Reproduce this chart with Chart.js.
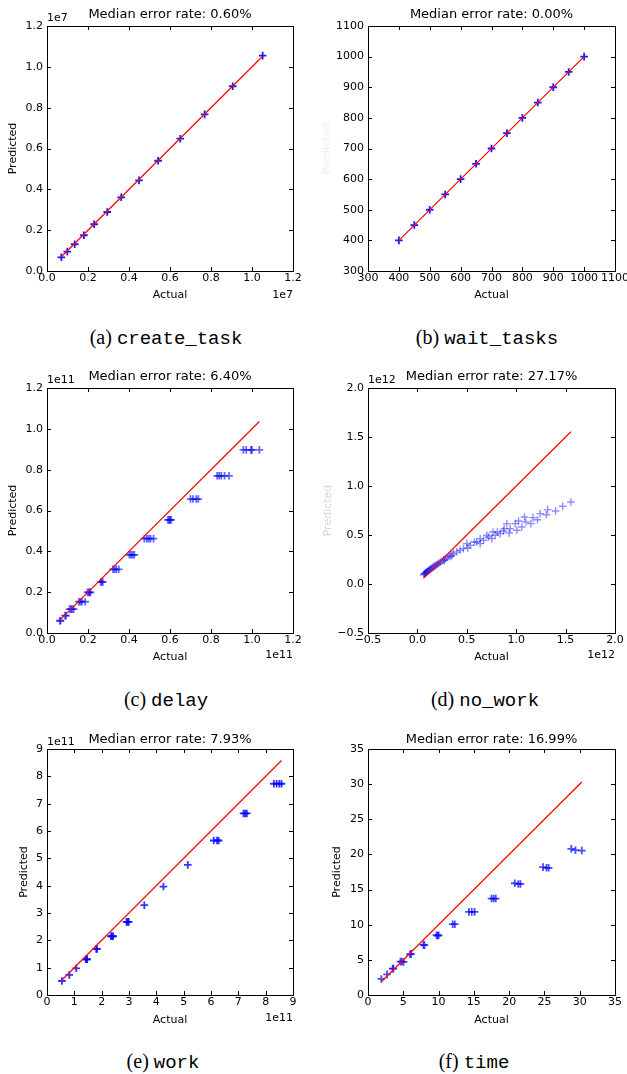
<!DOCTYPE html>
<html>
<head>
<meta charset="utf-8">
<title>Median error rate</title>
<script src="https://cdn.jsdelivr.net/npm/chart.js@4.4.1/dist/chart.umd.min.js"></script>
<style>
  html, body { margin: 0; padding: 0; background: #fff; overflow: hidden; }
  body { width: 627px; height: 1074px; position: relative; }
  canvas { position: absolute; }
  .cap { position: absolute; width: 300px; text-align: center; line-height: 24px;
         font-family: "Liberation Serif", serif; font-size: 20px; color: #000; white-space: nowrap; }
  .cap code { font-family: "Liberation Mono", monospace; font-size: 19px; }
</style>
</head>
<body>
<canvas id="c0" width="313" height="310" style="left:0;top:0"></canvas>
<canvas id="c1" width="314" height="310" style="left:313px;top:0"></canvas>
<canvas id="c2" width="313" height="310" style="left:0;top:360px"></canvas>
<canvas id="c3" width="314" height="310" style="left:313px;top:360px"></canvas>
<canvas id="c4" width="313" height="310" style="left:0;top:725px"></canvas>
<canvas id="c5" width="314" height="310" style="left:313px;top:725px"></canvas>

<div class="cap" style="left:16px;top:325px">(a) <code>create_task</code></div>
<div class="cap" style="left:337px;top:325px">(b) <code>wait_tasks</code></div>
<div class="cap" style="left:16px;top:687px">(c) <code>delay</code></div>
<div class="cap" style="left:335px;top:687px">(d) <code>no_work</code></div>
<div class="cap" style="left:13px;top:1049px">(e) <code>work</code></div>
<div class="cap" style="left:324px;top:1049px">(f) <code>time</code></div>

<script>
// create_task, units of 1e7
const createActual    = [0.070, 0.099, 0.135, 0.180, 0.230, 0.294, 0.362, 0.449, 0.542, 0.650, 0.769, 0.906, 1.052];
const createPredicted = [0.067, 0.095, 0.131, 0.175, 0.229, 0.289, 0.361, 0.444, 0.540, 0.648, 0.767, 0.905, 1.055];

// wait_tasks
const waitActual    = [400, 450, 500, 550, 600, 650, 700, 750, 800, 850, 900, 950, 1000];
const waitPredicted = [400, 450, 500, 550, 600, 650, 700, 750, 800, 850, 900, 950, 1000];

// delay, units of 1e11
const delayActual = [0.063, 0.066, 0.088, 0.093, 0.110, 0.117, 0.122, 0.130, 0.156, 0.163, 0.170, 0.186,
                     0.198, 0.203, 0.208, 0.212, 0.262, 0.267, 0.272, 0.322, 0.330, 0.338, 0.350,
                     0.402, 0.410, 0.418, 0.426, 0.475, 0.487, 0.496, 0.505, 0.520, 0.590, 0.596, 0.600, 0.606,
                     0.700, 0.712, 0.728, 0.738, 0.830, 0.840, 0.850, 0.866, 0.888, 0.958, 0.972, 0.995, 1.000, 1.036];
const delayPredicted = [0.060, 0.060, 0.085, 0.085, 0.117, 0.117, 0.117, 0.117, 0.153, 0.153, 0.153, 0.153,
                        0.199, 0.199, 0.199, 0.199, 0.250, 0.250, 0.250, 0.312, 0.312, 0.312, 0.312,
                        0.383, 0.383, 0.383, 0.383, 0.462, 0.462, 0.462, 0.462, 0.462, 0.554, 0.554, 0.554, 0.554,
                        0.656, 0.656, 0.656, 0.656, 0.770, 0.770, 0.770, 0.770, 0.770, 0.897, 0.897, 0.897, 0.897, 0.897];

// no_work, units of 1e12
const noWorkActual = [0.064, 0.070, 0.075, 0.080, 0.086, 0.092, 0.098, 0.105, 0.112, 0.120, 0.128, 0.137,
                      0.146, 0.156, 0.167, 0.178, 0.190, 0.203, 0.217, 0.232, 0.248, 0.265, 0.283, 0.300,
                      0.274, 0.338, 0.510, 0.635, 0.753, 0.929,
                      0.320, 0.350, 0.365, 0.399, 0.432, 0.466, 0.500, 0.534, 0.578, 0.601, 0.635, 0.669,
                      0.703, 0.720, 0.764, 0.787, 0.810, 0.838, 0.872, 0.878, 0.905, 0.939, 0.990, 1.007,
                      1.024, 1.057, 1.084, 1.098, 1.149, 1.169, 1.216, 1.243, 1.304, 1.318, 1.399, 1.470, 1.554];
const noWorkPredicted = [0.095, 0.100, 0.106, 0.110, 0.114, 0.120, 0.125, 0.130, 0.136, 0.142, 0.148, 0.155,
                         0.162, 0.170, 0.177, 0.185, 0.193, 0.202, 0.212, 0.222, 0.233, 0.246, 0.258, 0.270,
                         0.241, 0.282, 0.367, 0.412, 0.463, 0.520,
                         0.285, 0.295, 0.310, 0.327, 0.344, 0.361, 0.412, 0.395, 0.429, 0.429, 0.463, 0.446,
                         0.497, 0.480, 0.531, 0.497, 0.531, 0.514, 0.541, 0.565, 0.616, 0.565, 0.616, 0.548,
                         0.643, 0.582, 0.684, 0.633, 0.616, 0.677, 0.656, 0.718, 0.707, 0.759, 0.745, 0.793, 0.837];

// work, units of 1e11
const workActual    = [0.547, 0.815, 1.07, 1.42, 1.45, 1.47, 1.80, 1.83, 2.34, 2.38, 2.42, 2.91, 2.95, 2.99,
                       3.56, 4.26, 5.15, 6.10, 6.22, 6.28, 7.19, 7.25, 7.31, 8.30, 8.40, 8.50, 8.58];
const workPredicted = [0.513, 0.733, 0.977, 1.306, 1.306, 1.306, 1.685, 1.685, 2.149, 2.149, 2.149, 2.674, 2.674, 2.674,
                       3.285, 3.968, 4.762, 5.653, 5.653, 5.653, 6.642, 6.642, 6.642, 7.729, 7.729, 7.729, 7.729];

// time
const timeActual    = [1.89, 2.70, 3.50, 3.60, 4.60, 4.80, 5.05, 5.95, 6.10, 7.85, 8.00, 9.70, 9.90, 10.0,
                       12.0, 12.3, 14.3, 14.7, 15.1, 17.5, 17.8, 18.1, 20.8, 21.3, 21.6, 24.8, 25.3, 25.6,
                       28.8, 29.4, 30.3];
const timePredicted = [2.28, 2.94, 3.75, 3.75, 4.75, 4.75, 4.70, 5.79, 5.85, 7.12, 7.10, 8.50, 8.45, 8.50,
                       10.07, 10.07, 11.82, 11.82, 11.82, 13.72, 13.72, 13.72, 15.9, 15.8, 15.8, 18.2, 18.1, 18.1,
                       20.8, 20.6, 20.55];

const titles   = ['Median error rate: 0.60%', 'Median error rate: 0.00%', 'Median error rate: 6.40%',
                  'Median error rate: 27.17%', 'Median error rate: 7.93%', 'Median error rate: 16.99%'];
const offsets  = ['1e7', '', '1e11', '1e12', '1e11', ''];
// axis [min, max, step] and decimals of the tick labels
const ranges   = [[0, 1.2, 0.2], [300, 1100, 100], [0, 1.2, 0.2], [-0.5, 2.0, 0.5], [0, 9, 1], [0, 35, 5]];
const decimals = [1, 0, 1, 1, 0, 0];

const actuals    = [createActual, waitActual, delayActual, noWorkActual, workActual, timeActual];
const predicteds = [createPredicted, waitPredicted, delayPredicted, noWorkPredicted, workPredicted, timePredicted];
const markerAlpha = [0.9, 0.9, 0.6, 0.45, 0.8, 0.7];
const yTitleColor = ['#000', '#eeeeee', '#000', '#d8d8d8', '#000', '#000'];
const yTitlePad   = [7, 8, 7, 9, 18, 18];

const rowPadTop   = [26, 28, 24];
const rowXAxisH   = [39, 37, 40];
const rowXTitlePad = [8, 6, 8];
const rowTitleGap = [11, 11, 9];
const rowOffTop   = [8, 8, 7];
const rowOffBot   = [24, 22, 23];

const FONT = '"DejaVu Sans", sans-serif';

const framePlugin = {
    id: 'frame',
    afterDatasetsDraw(chart, args, o) {
        const ctx = chart.ctx;
        const a = chart.chartArea;
        const sx = chart.scales.x, sy = chart.scales.y;
        ctx.save();
        ctx.strokeStyle = '#000';
        ctx.lineWidth = 1;
        ctx.beginPath();
        sx.ticks.forEach(t => {
            const p = Math.round(sx.getPixelForValue(t.value)) + 0.5;
            ctx.moveTo(p, a.bottom); ctx.lineTo(p, a.bottom - 4);
            ctx.moveTo(p, a.top); ctx.lineTo(p, a.top + 4);
        });
        sy.ticks.forEach(t => {
            const p = Math.round(sy.getPixelForValue(t.value)) + 0.5;
            ctx.moveTo(a.left, p); ctx.lineTo(a.left + 4, p);
            ctx.moveTo(a.right, p); ctx.lineTo(a.right - 4, p);
        });
        ctx.stroke();
        ctx.strokeRect(Math.round(a.left) + 0.5, Math.round(a.top) + 0.5,
                       Math.round(a.right - a.left), Math.round(a.bottom - a.top));

        ctx.fillStyle = '#000';
        ctx.textBaseline = 'middle';
        ctx.font = '13px ' + FONT;
        ctx.textAlign = 'center';
        ctx.fillText(o.title, (a.left + a.right) / 2, a.top - o.titleGap);
        if (o.offset) {
            ctx.font = '11px ' + FONT;
            ctx.textAlign = 'left';
            ctx.fillText(o.offset, a.left, a.top - o.offTop);
            ctx.textAlign = 'right';
            ctx.fillText(o.offset, a.right, a.bottom + o.offBot);
        }
        ctx.restore();
    }
};

function axis(i, horizontal) {
    const r = ranges[i];
    const row = Math.floor(i / 2);
    const right = i % 2 === 1;
    return {
        type: 'linear',
        min: r[0],
        max: r[1],
        grid: { display: false, drawTicks: false },
        border: { display: false },
        ticks: {
            stepSize: r[2],
            padding: horizontal ? 1 : 4,
            color: '#000',
            font: { family: FONT, size: 11 },
            maxRotation: 0,
            autoSkip: false,
            callback: v => (v < 0 ? '\u2212' : '') + Math.abs(v).toFixed(decimals[i])
        },
        title: horizontal
            ? { display: true, text: 'Actual', color: '#000', font: { family: FONT, size: 11 },
                padding: { top: 0, bottom: rowXTitlePad[row] } }
            : { display: true, text: 'Predicted', color: yTitleColor[i], font: { family: FONT, size: 11 },
                padding: { top: yTitlePad[i], bottom: 0 } },
        afterFit: horizontal
            ? s => { s.height = rowXAxisH[row]; s.paddingLeft = 0; s.paddingRight = 0; }
            : s => { s.width = right ? 55 : 47; s.paddingTop = 0; s.paddingBottom = 0; }
    };
}

function drawPanel(i) {
    const row = Math.floor(i / 2);
    const right = i % 2 === 1;
    const xs = actuals[i], ys = predicteds[i];
    const lo = Math.min(...xs), hi = Math.max(...xs);
    const pontos = xs.map((x, k) => ({ x: x, y: ys[k] }));
    const cor = `rgba(0, 0, 255, ${markerAlpha[i]})`;

    new Chart(document.getElementById('c' + i), {
        type: 'scatter',
        data: {
            datasets: [{
                data: [{ x: lo, y: lo }, { x: hi, y: hi }],
                showLine: true,
                borderColor: 'rgb(255, 0, 0)',
                borderWidth: 1.2,
                pointRadius: 0
            }, {
                data: pontos,
                pointStyle: 'cross',
                pointRadius: 3.8,
                borderWidth: i === 3 ? 1.4 : 1.8,
                borderColor: cor,
                backgroundColor: cor
            }]
        },
        options: {
            responsive: false,
            animation: false,
            events: [],
            layout: { padding: { top: rowPadTop[row], right: right ? 12 : 20, left: 0, bottom: 0 } },
            scales: { x: axis(i, true), y: axis(i, false) },
            plugins: {
                legend: { display: false },
                tooltip: { enabled: false },
                frame: {
                    title: titles[i],
                    offset: offsets[i],
                    titleGap: rowTitleGap[row],
                    offTop: rowOffTop[row],
                    offBot: rowOffBot[row]
                }
            }
        },
        plugins: [framePlugin]
    });
}

for (let i = 0; i < 6; i++) drawPanel(i);
</script>
</body>
</html>
